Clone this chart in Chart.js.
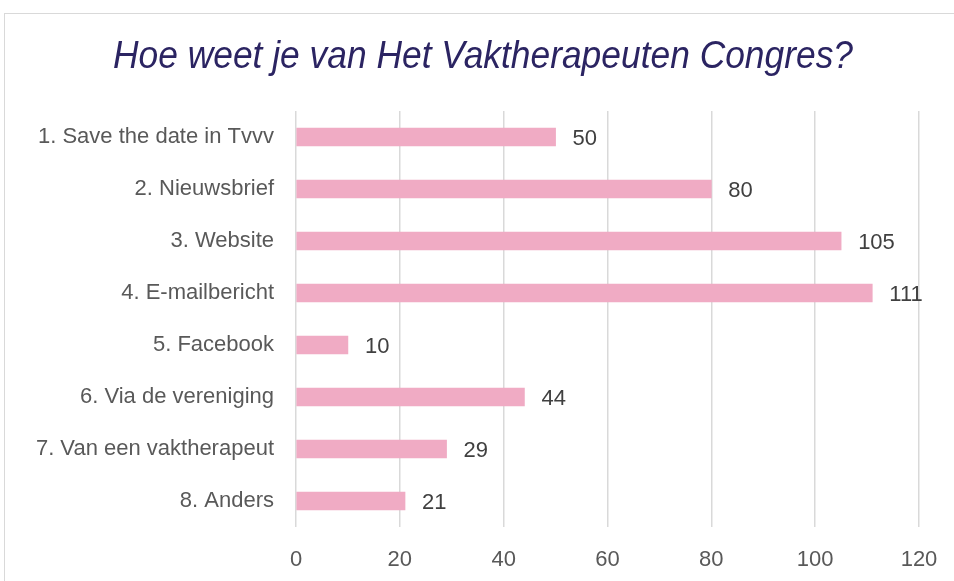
<!DOCTYPE html>
<html>
<head>
<meta charset="utf-8">
<script src="https://cdn.jsdelivr.net/npm/chart.js@4/dist/chart.umd.min.js"></script>
<style>
  html, body { margin: 0; padding: 0; background: #ffffff; overflow: hidden; }
  #wrap { position: relative; width: 954px; height: 581px; }
  #frame { position: absolute; left: 4px; top: 13px; right: -4px; bottom: -4px;
           border-top: 1.5px solid #d9d9d9; border-left: 1.5px solid #d9d9d9; pointer-events: none; }
  canvas { position: absolute; left: 0; top: 0; }
</style>
</head>
<body>
<div id="wrap">
  <canvas id="c" width="954" height="581"></canvas>
  <div id="frame"></div>
</div>
<script>
const titleText = "Hoe weet je van Het Vaktherapeuten Congres?";
const categories = [
  "1. Save the date in Tvvv",
  "2. Nieuwsbrief",
  "3. Website",
  "4. E-mailbericht",
  "5. Facebook",
  "6. Via de vereniging",
  "7. Van een vaktherapeut",
  "8. Anders"
];
const counts = [50, 80, 105, 111, 10, 44, 29, 21];
const axisMin = 0;
const axisMax = 120;
const axisStep = 20;

// Title drawn centred over the frame
const titlePlugin = {
  id: 'titlePlugin',
  afterDraw(chart) {
    const ctx = chart.ctx;
    ctx.save();
    ctx.font = "italic 38px 'Liberation Sans', Arial, sans-serif";
    ctx.fillStyle = '#2b2462';
    ctx.textAlign = 'center';
    ctx.textBaseline = 'alphabetic';
    ctx.fillText(titleText, 483, 68, 740);
    ctx.restore();
  }
};

// Bar value labels
const valueLabels = {
  id: 'valueLabels',
  afterDatasetsDraw(chart) {
    const ctx = chart.ctx;
    const meta = chart.getDatasetMeta(0);
    ctx.save();
    ctx.font = "22px 'Liberation Sans', Arial, sans-serif";
    ctx.fillStyle = '#404040';
    ctx.textAlign = 'left';
    ctx.textBaseline = 'middle';
    meta.data.forEach((bar, i) => {
      ctx.fillText(String(counts[i]), bar.x + 17, bar.y + 2);
    });
    ctx.restore();
  }
};

new Chart(document.getElementById('c'), {
  type: 'bar',
  data: {
    labels: categories,
    datasets: [{
      data: counts,
      backgroundColor: 'rgb(240,171,196)',
      borderWidth: 0,
      barThickness: 18
    }]
  },
  options: {
    indexAxis: 'y',
    responsive: false,
    animation: false,
    devicePixelRatio: 1,
    layout: { padding: { left: 0, right: 35, top: 111, bottom: 0 } },
    plugins: {
      legend: { display: false },
      tooltip: { enabled: false },
      title: { display: false }
    },
    scales: {
      x: {
        min: axisMin,
        max: axisMax,
        border: { display: false },
        grid: { color: '#d9d9d9', lineWidth: 1.5, drawTicks: false },
        ticks: {
          stepSize: axisStep,
          color: '#595959',
          padding: 20,
          maxRotation: 0,
          font: { family: "'Liberation Sans', Arial, sans-serif", size: 22 }
        },
        afterFit(scale) {
          scale.height = 54;
          scale.paddingLeft = 0;
          scale.paddingRight = 0;
        }
      },
      y: {
        border: { display: false },
        grid: { display: false, drawTicks: false },
        ticks: {
          color: '#595959',
          padding: 22,
          font: { family: "'Liberation Sans', Arial, sans-serif", size: 22 }
        },
        afterFit(scale) { scale.width = 296; }
      }
    }
  },
  plugins: [valueLabels, titlePlugin]
});
</script>
</body>
</html>
